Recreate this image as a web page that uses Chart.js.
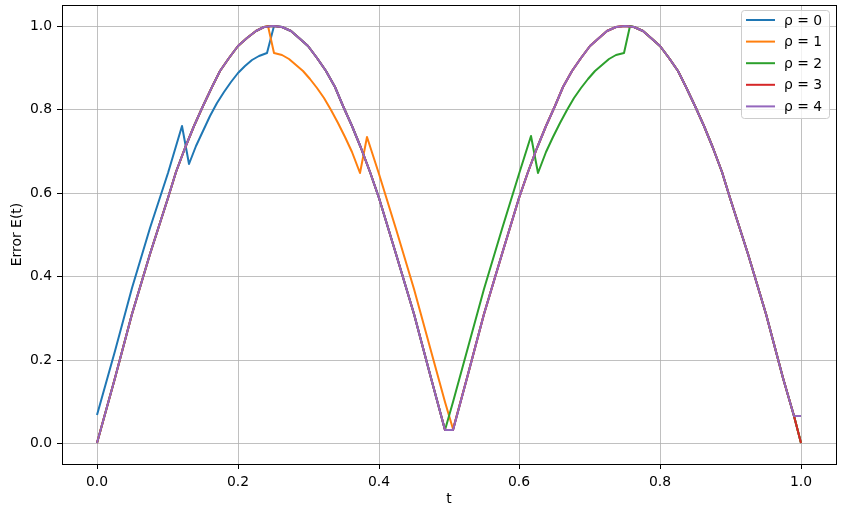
<!DOCTYPE html>
<html>
<head>
<meta charset="utf-8">
<script src="https://cdn.jsdelivr.net/npm/chart.js@4.4.0/dist/chart.umd.min.js"></script>
<style>
  html, body { margin: 0; padding: 0; background: #fff; }
</style>
</head>
<body>
<canvas id="errChart" width="846" height="517" style="width:846px;height:517px"></canvas>
<script>
// tick positions
const xTicks = [0, 0.2, 0.4, 0.6, 0.8, 1.0];
const yTicks = [0, 0.2, 0.4, 0.6, 0.8, 1.0];

const rhoLabels = ['ρ = 0', 'ρ = 1', 'ρ = 2', 'ρ = 3', 'ρ = 4'];
const rhoColors = ['#1f77b4', '#ff7f0e', '#2ca02c', '#d62728', '#9467bd'];

// rho = 0
const t0 = [0, 0.025, 0.05, 0.075, 0.1, 0.121, 0.13, 0.14, 0.15, 0.16, 0.17, 0.18, 0.19, 0.2, 0.21, 0.22, 0.23, 0.241, 0.251,
  0.2625, 0.275, 0.2875, 0.3, 0.3125, 0.325, 0.3375, 0.35, 0.3625, 0.375, 0.3875, 0.4, 0.425, 0.45, 0.475, 0.495, 0.505,
  0.525, 0.55, 0.575, 0.6, 0.6125, 0.625, 0.6375, 0.65, 0.6625, 0.675, 0.6875, 0.7, 0.7125, 0.725, 0.7375, 0.75,
  0.7625, 0.775, 0.7875, 0.8, 0.8125, 0.825, 0.8375, 0.85, 0.8625, 0.875, 0.8875, 0.9, 0.925, 0.95, 0.975, 0.99, 1.0];
const e0 = [0.067, 0.222, 0.372, 0.515, 0.648, 0.759, 0.670, 0.711, 0.749, 0.784, 0.814, 0.842, 0.866, 0.887, 0.904, 0.918, 0.928, 0.935, 1.0,
  0.997, 0.988, 0.972, 0.951, 0.924, 0.891, 0.853, 0.809, 0.760, 0.707, 0.649, 0.588, 0.454, 0.309, 0.156, 0.032, 0.032,
  0.156, 0.309, 0.454, 0.588, 0.649, 0.707, 0.760, 0.809, 0.853, 0.891, 0.924, 0.951, 0.972, 0.988, 0.997, 1.0,
  0.997, 0.988, 0.972, 0.951, 0.924, 0.891, 0.853, 0.809, 0.760, 0.707, 0.649, 0.588, 0.454, 0.309, 0.156, 0.065, 0];

// rho = 1
const t1 = [0, 0.025, 0.05, 0.075, 0.1, 0.1125, 0.125, 0.1375, 0.15, 0.1625, 0.175, 0.1875, 0.2, 0.2125, 0.225, 0.2375,
  0.243, 0.252, 0.262, 0.272, 0.282, 0.292, 0.302, 0.312, 0.322, 0.332, 0.342, 0.352, 0.362, 0.374, 0.384,
  0.4, 0.425, 0.45, 0.475, 0.495, 0.505,
  0.525, 0.55, 0.575, 0.6, 0.6125, 0.625, 0.6375, 0.65, 0.6625, 0.675, 0.6875, 0.7, 0.7125, 0.725, 0.7375, 0.75,
  0.7625, 0.775, 0.7875, 0.8, 0.8125, 0.825, 0.8375, 0.85, 0.8625, 0.875, 0.8875, 0.9, 0.925, 0.95, 0.975, 0.99, 1.0];
const e1 = [0, 0.156, 0.309, 0.454, 0.588, 0.649, 0.707, 0.760, 0.809, 0.853, 0.891, 0.924, 0.951, 0.972, 0.988, 0.997,
  1.0, 0.936, 0.930, 0.920, 0.907, 0.892, 0.873, 0.851, 0.826, 0.798, 0.768, 0.734, 0.697, 0.648, 0.733,
  0.645, 0.512, 0.370, 0.222, 0.098, 0.033,
  0.156, 0.309, 0.454, 0.588, 0.649, 0.707, 0.760, 0.809, 0.853, 0.891, 0.924, 0.951, 0.972, 0.988, 0.997, 1.0,
  0.997, 0.988, 0.972, 0.951, 0.924, 0.891, 0.853, 0.809, 0.760, 0.707, 0.649, 0.588, 0.454, 0.309, 0.156, 0.065, 0];

// rho = 2
const t2 = [0, 0.025, 0.05, 0.075, 0.1, 0.1125, 0.125, 0.1375, 0.15, 0.1625, 0.175, 0.1875, 0.2, 0.2125, 0.225, 0.2375, 0.25,
  0.2625, 0.275, 0.2875, 0.3, 0.3125, 0.325, 0.3375, 0.35, 0.3625, 0.375, 0.3875, 0.4, 0.425, 0.45, 0.475,
  0.495, 0.505, 0.525, 0.55, 0.575, 0.6, 0.616, 0.626, 0.638, 0.648, 0.658, 0.668, 0.678, 0.688, 0.698, 0.708, 0.718, 0.728, 0.738,
  0.748, 0.757, 0.7625, 0.775, 0.7875, 0.8, 0.8125, 0.825, 0.8375, 0.85, 0.8625, 0.875, 0.8875, 0.9, 0.925, 0.95, 0.975, 0.99, 1.0];
const e2 = [0, 0.156, 0.309, 0.454, 0.588, 0.649, 0.707, 0.760, 0.809, 0.853, 0.891, 0.924, 0.951, 0.972, 0.988, 0.997, 1.0,
  0.997, 0.988, 0.972, 0.951, 0.924, 0.891, 0.853, 0.809, 0.760, 0.707, 0.649, 0.588, 0.454, 0.309, 0.156,
  0.032, 0.098, 0.222, 0.370, 0.512, 0.645, 0.735, 0.648, 0.697, 0.734, 0.768, 0.798, 0.826, 0.851, 0.873, 0.892, 0.907, 0.920, 0.930,
  0.936, 1.0, 0.997, 0.988, 0.972, 0.951, 0.924, 0.891, 0.853, 0.809, 0.760, 0.707, 0.649, 0.588, 0.454, 0.309, 0.156, 0.065, 0];

// rho = 3
const t3 = [0, 0.025, 0.05, 0.075, 0.1, 0.1125, 0.125, 0.1375, 0.15, 0.1625, 0.175, 0.1875, 0.2, 0.2125, 0.225, 0.2375, 0.25,
  0.2625, 0.275, 0.2875, 0.3, 0.3125, 0.325, 0.3375, 0.35, 0.3625, 0.375, 0.3875, 0.4, 0.425, 0.45, 0.475, 0.495, 0.505,
  0.525, 0.55, 0.575, 0.6, 0.6125, 0.625, 0.6375, 0.65, 0.6625, 0.675, 0.6875, 0.7, 0.7125, 0.725, 0.7375, 0.75,
  0.7625, 0.775, 0.7875, 0.8, 0.8125, 0.825, 0.8375, 0.85, 0.8625, 0.875, 0.8875, 0.9, 0.925, 0.95, 0.975, 0.99, 1.0];
const e3 = [0, 0.156, 0.309, 0.454, 0.588, 0.649, 0.707, 0.760, 0.809, 0.853, 0.891, 0.924, 0.951, 0.972, 0.988, 0.997, 1.0,
  0.997, 0.988, 0.972, 0.951, 0.924, 0.891, 0.853, 0.809, 0.760, 0.707, 0.649, 0.588, 0.454, 0.309, 0.156, 0.032, 0.032,
  0.156, 0.309, 0.454, 0.588, 0.649, 0.707, 0.760, 0.809, 0.853, 0.891, 0.924, 0.951, 0.972, 0.988, 0.997, 1.0,
  0.997, 0.988, 0.972, 0.951, 0.924, 0.891, 0.853, 0.809, 0.760, 0.707, 0.649, 0.588, 0.454, 0.309, 0.156, 0.065, 0];

// rho = 4
const t4 = [0, 0.025, 0.05, 0.075, 0.1, 0.1125, 0.125, 0.1375, 0.15, 0.1625, 0.175, 0.1875, 0.2, 0.2125, 0.225, 0.2375, 0.25,
  0.2625, 0.275, 0.2875, 0.3, 0.3125, 0.325, 0.3375, 0.35, 0.3625, 0.375, 0.3875, 0.4, 0.425, 0.45, 0.475, 0.495, 0.505,
  0.525, 0.55, 0.575, 0.6, 0.6125, 0.625, 0.6375, 0.65, 0.6625, 0.675, 0.6875, 0.7, 0.7125, 0.725, 0.7375, 0.75,
  0.7625, 0.775, 0.7875, 0.8, 0.8125, 0.825, 0.8375, 0.85, 0.8625, 0.875, 0.8875, 0.9, 0.925, 0.95, 0.975, 0.99, 1.0];
const e4 = [0, 0.156, 0.309, 0.454, 0.588, 0.649, 0.707, 0.760, 0.809, 0.853, 0.891, 0.924, 0.951, 0.972, 0.988, 0.997, 1.0,
  0.997, 0.988, 0.972, 0.951, 0.924, 0.891, 0.853, 0.809, 0.760, 0.707, 0.649, 0.588, 0.454, 0.309, 0.156, 0.032, 0.032,
  0.156, 0.309, 0.454, 0.588, 0.649, 0.707, 0.760, 0.809, 0.853, 0.891, 0.924, 0.951, 0.972, 0.988, 0.997, 1.0,
  0.997, 0.988, 0.972, 0.951, 0.924, 0.891, 0.853, 0.809, 0.760, 0.707, 0.649, 0.588, 0.454, 0.309, 0.156, 0.065, 0.065];

const tSeries = [t0, t1, t2, t3, t4];
const eSeries = [e0, e1, e2, e3, e4];

const FONT = 'DejaVu Sans';

const datasets = tSeries.map(function(ts, i) {
  return {
    label: rhoLabels[i],
    data: ts.map(function(t, k) { return { x: t, y: eSeries[i][k] }; }),
    borderColor: rhoColors[i],
    backgroundColor: rhoColors[i],
    borderWidth: 2,
    pointRadius: 0,
    tension: 0,
    fill: false,
    borderJoinStyle: 'round',
    order: 4 - i   // last one on top, like matplotlib
  };
});

// black box round the plot
const frame = {
  id: 'frame',
  afterDatasetsDraw(chart) {
    const ctx = chart.ctx, a = chart.chartArea;
    ctx.save();
    ctx.strokeStyle = '#000';
    ctx.lineWidth = 1;
    ctx.strokeRect(Math.round(a.left) + 0.5, Math.round(a.top) + 0.5,
      Math.round(a.right - a.left), Math.round(a.bottom - a.top));
    ctx.restore();
  }
};

// matplotlib style legend box in the upper right corner
const boxLegend = {
  id: 'boxLegend',
  afterDraw(chart) {
    const ctx = chart.ctx, a = chart.chartArea;
    const w = 88, h = 108;
    const x0 = Math.round(a.right - 7 - w), y0 = Math.round(a.top + 5);
    ctx.save();
    ctx.beginPath();
    ctx.roundRect(x0 + 0.5, y0 + 0.5, w, h, 3);
    ctx.fillStyle = 'rgba(255,255,255,0.8)';
    ctx.fill();
    ctx.strokeStyle = '#cccccc';
    ctx.lineWidth = 1;
    ctx.stroke();
    ctx.font = '13.9px "' + FONT + '"';
    ctx.textBaseline = 'middle';
    ctx.textAlign = 'left';
    chart.data.datasets.forEach(function(ds, i) {
      const y = y0 + 10 + i * 21.6;
      ctx.strokeStyle = ds.borderColor;
      ctx.lineWidth = 2;
      ctx.beginPath();
      ctx.moveTo(x0 + 5, y);
      ctx.lineTo(x0 + 34, y);
      ctx.stroke();
      ctx.fillStyle = '#000';
      ctx.fillText(ds.label, x0 + 43, y + 1);
    });
    ctx.restore();
  }
};

const tickFont = { family: FONT, size: 13.9 };

new Chart(document.getElementById('errChart').getContext('2d'), {
  type: 'line',
  data: { datasets: datasets },
  options: {
    responsive: false,
    animation: false,
    events: [],
    layout: { padding: { top: 5, right: 10, left: 0, bottom: 0 } },
    plugins: {
      legend: { display: false },
      tooltip: { enabled: false }
    },
    scales: {
      x: {
        type: 'linear',
        min: -0.05,
        max: 1.05,
        alignToPixels: true,
        afterBuildTicks: function(scale) {
          scale.ticks = xTicks.map(function(v) { return { value: v }; });
        },
        afterFit: function(scale) {
          scale.height = 53;
          scale.paddingLeft = 0;
          scale.paddingRight = 0;
        },
        ticks: {
          font: tickFont,
          color: '#000',
          padding: 5,
          maxRotation: 0,
          autoSkip: false,
          callback: function(v) { return Number(v).toFixed(1); }
        },
        grid: {
          color: '#b0b0b0',
          lineWidth: 0.8,
          drawTicks: true,
          tickLength: 5,
          tickColor: '#000',
          tickWidth: 1
        },
        border: { display: false },
        title: {
          display: true,
          text: 't',
          color: '#000',
          font: tickFont,
          padding: { top: 0, bottom: 9 }
        }
      },
      y: {
        type: 'linear',
        min: -0.05,
        max: 1.05,
        alignToPixels: true,
        afterBuildTicks: function(scale) {
          scale.ticks = yTicks.map(function(v) { return { value: v }; });
        },
        afterFit: function(scale) {
          scale.width = 62;
          scale.paddingTop = 0;
          scale.paddingBottom = 0;
        },
        ticks: {
          font: tickFont,
          color: '#000',
          padding: 5,
          autoSkip: false,
          callback: function(v) { return Number(v).toFixed(1); }
        },
        grid: {
          color: '#b0b0b0',
          lineWidth: 0.8,
          drawTicks: true,
          tickLength: 5,
          tickColor: '#000',
          tickWidth: 1
        },
        border: { display: false },
        title: {
          display: true,
          text: 'Error E(t)',
          color: '#000',
          font: tickFont,
          padding: { top: 9, bottom: 0 }
        }
      }
    }
  },
  plugins: [frame, boxLegend]
});
</script>
</body>
</html>
